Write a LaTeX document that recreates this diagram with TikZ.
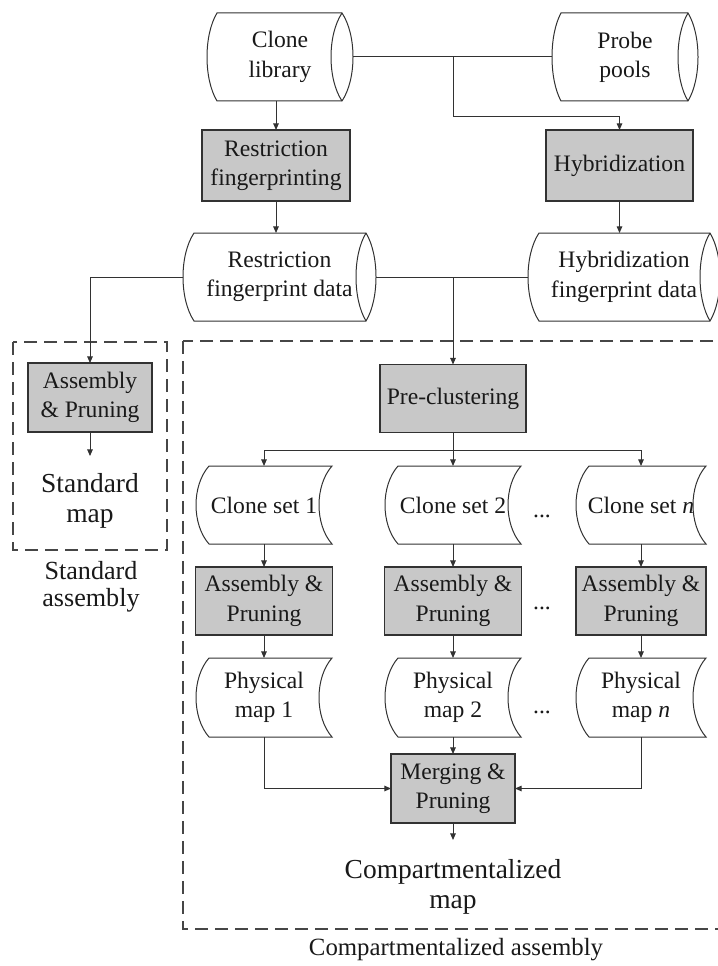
\documentclass[tikz,border=0pt]{standalone}
\usepackage{fontspec}
\setmainfont{Liberation Serif}
\usetikzlibrary{arrows.meta,calc}
\definecolor{boxgray}{RGB}{200,200,200}
\definecolor{linecol}{RGB}{50,50,50}
\definecolor{dashcol}{RGB}{70,70,70}
\definecolor{txtcol}{RGB}{25,25,25}
\newcommand\bodyfont{\fontsize{17.7}{22}\selectfont}
\newcommand\bigfont{\fontsize{20.6}{22}\selectfont}
\newcommand\grpfont{\fontsize{18.6}{20.25}\selectfont}
\newcommand\stdgrpfont{\fontsize{19.6}{20.5}\selectfont}
\tikzset{
  every node/.style={inner sep=0pt, outer sep=0pt, text=txtcol},
  sz/.style 2 args={minimum width=#1*0.75pt, minimum height=#2*0.75pt},
  shapeln/.style={draw=linecol, line width=0.75pt},
  gbox/.style={draw=linecol, line width=0.9pt, fill=boxgray, align=center, font=\bodyfont},
  tbox/.style={align=center, font=\bodyfont},
  bigtxt/.style={align=center, font=\bigfont},
  grptxt/.style={align=center, font=\grpfont},
  ln/.style={draw=linecol, line width=0.75pt},
  arr/.style={ln, -{Triangle[length=5pt,width=4.2pt]}},
  dashbox/.style={draw=dashcol, line width=1.5pt, dash pattern=on 9.5pt off 5.5pt},
}
\newcommand\drumshape[6]{% bulge x, corner x, ellipse cx, r, top, bottom
  \pgfmathsetmacro\drmL{#2-(#2-#1)*4/3}%
  \pgfmathsetmacro\drmA{#5+(#6-#5)/4}%
  \pgfmathsetmacro\drmB{#6-(#6-#5)/4}%
  \pgfmathsetmacro\drmO{#3+#4*4/3}%
  \pgfmathsetmacro\drmI{#3-#4*4/3}%
  \filldraw[shapeln,fill=white] (#3,#5) -- (#2,#5) .. controls (\drmL,\drmA) and (\drmL,\drmB) .. (#2,#6) -- (#3,#6) .. controls (\drmO,\drmB) and (\drmO,\drmA) .. (#3,#5) -- cycle;
  \draw[shapeln] (#3,#5) .. controls (\drmI,\drmA) and (\drmI,\drmB) .. (#3,#6);
}
\newcommand\sdshape[5]{% bulge x, left corner x, right corner x, top, bottom
  \pgfmathsetmacro\sdL{#2-(#2-#1)*4/3}%
  \pgfmathsetmacro\sdR{#3-(#2-#1)*4/3}%
  \pgfmathsetmacro\sdA{#4+(#5-#4)/4}%
  \pgfmathsetmacro\sdB{#5-(#5-#4)/4}%
  \filldraw[shapeln,fill=white] (#2,#4) -- (#3,#4) .. controls (\sdR,\sdA) and (\sdR,\sdB) .. (#3,#5) -- (#2,#5) .. controls (\sdL,\sdB) and (\sdL,\sdA) .. (#2,#4) -- cycle;
}
\begin{document}
\begin{tikzpicture}[x=0.75pt,y=-0.75pt]
\useasboundingbox (0,0) rectangle (717,966);
\fill[white] (0,0) rectangle (717,966);

% group frames
\draw[dashbox] (13,342) rectangle (167,550);
\draw[dashbox] (183,341) rectangle (770,929);

% shapes
\drumshape{207}{217}{342}{11}{13}{101}
\drumshape{552}{561}{688}{10}{13}{101}
\drumshape{183}{194}{366}{10}{233}{321}
\drumshape{528}{539}{710}{10}{233}{321}
\sdshape{196}{209}{332}{466}{544}
\sdshape{385}{398}{521}{466}{544}
\sdshape{576}{589}{706}{466}{544}
\sdshape{196}{209}{332}{658}{737}
\sdshape{385}{398}{521}{658}{737}
\sdshape{576}{589}{706}{658}{737}

% nodes
\node[tbox, sz={146}{88}] (clone) at (280,57) {Clone\\library};
\node[tbox, sz={146}{88}] (probe) at (625,57) {Probe\\pools};
\node[gbox, sz={148}{71}] (restr) at (276,165.5) {Restriction\\fingerprinting};
\node[gbox, sz={147}{71}] (hyb) at (619.5,165.5) {Hybridization};
\node[tbox, sz={193}{88}] (rfd) at (279.5,277) {Restriction\\fingerprint data};
\node[tbox, sz={192}{88}] (hfd) at (624,277) {Hybridization\\fingerprint data};

\node[gbox, sz={124}{69}] (asm0) at (90,397.5) {Assembly\\\& Pruning};
\node[bigtxt] (stdmap) at (90,501) {Standard\\map};
\node[align=center, font=\stdgrpfont] (stdlbl) at (91,587) {Standard\\assembly};
\coordinate (stdend) at (90,456);

\node[gbox, sz={146}{68}] (pre) at (453,398.5) {Pre-clustering};
\coordinate (split) at (453,450);

\node[tbox, sz={136}{78}] (set1) at (264,505) {Clone set 1};
\node[tbox, sz={136}{78}] (set2) at (453,505) {Clone set 2};
\node[tbox, sz={130}{78}] (setn) at (641,505) {Clone set \textit{n}};

\node[gbox, sz={137}{68}] (asm1) at (264,601) {Assembly \&\\Pruning};
\node[gbox, sz={137}{68}] (asm2) at (453,601) {Assembly \&\\Pruning};
\node[gbox, sz={130}{68}] (asmn) at (641,601) {Assembly \&\\Pruning};

\node[tbox, sz={136}{79}] (map1) at (264,697.5) {Physical\\map 1};
\node[tbox, sz={136}{79}] (map2) at (453,697.5) {Physical\\map 2};
\node[tbox, sz={130}{79}] (mapn) at (641,697.5) {Physical\\map \textit{n}};

\node[tbox, anchor=base] (dots1) at (542,517) {...};
\node[tbox, anchor=base] (dots2) at (542,609) {...};
\node[tbox, anchor=base] (dots3) at (542,713) {...};

\node[gbox, sz={124}{69}] (merge) at (453,788.5) {Merging \&\\Pruning};
\coordinate (cmpend) at (453,840);
\node[bigtxt] (cmpmap) at (453,887) {Compartmentalized\\map};
\node[grptxt] (cmplbl) at (456,950) {Compartmentalized assembly};

% connectors
\draw[ln] (clone.east) -- (probe.west);
\draw[arr] (pre.north |- clone.east) |- ($(hyb.north)+(0,-13)$) -- (hyb.north);
\draw[arr] (restr.north |- clone.south) -- (restr.north);
\draw[arr] (restr.south) -- (restr.south |- rfd.north);
\draw[arr] (hyb.south) -- (hyb.south |- hfd.north);
\draw[ln] (rfd.east) -- (hfd.west);
\draw[arr] (pre.north |- rfd.east) -- (pre.north);
\draw[arr] (rfd.west) -| (asm0.north);
\draw[arr] (asm0.south) -- (stdend);

\draw[ln] (pre.south) -- (split);
\draw[arr] (split) -| (set1.north);
\draw[arr] (split) -- (set2.north);
\draw[arr] (split) -| (setn.north);
\draw[arr] (set1.south) -- (asm1.north);
\draw[arr] (set2.south) -- (asm2.north);
\draw[arr] (setn.south) -- (asmn.north);
\draw[arr] (asm1.south) -- (map1.north);
\draw[arr] (asm2.south) -- (map2.north);
\draw[arr] (asmn.south) -- (mapn.north);
\draw[arr] (map1.south) |- (merge.west);
\draw[arr] (map2.south) -- (merge.north);
\draw[arr] (mapn.south) |- (merge.east);
\draw[arr] (merge.south) -- (cmpend);
\end{tikzpicture}
\end{document}
